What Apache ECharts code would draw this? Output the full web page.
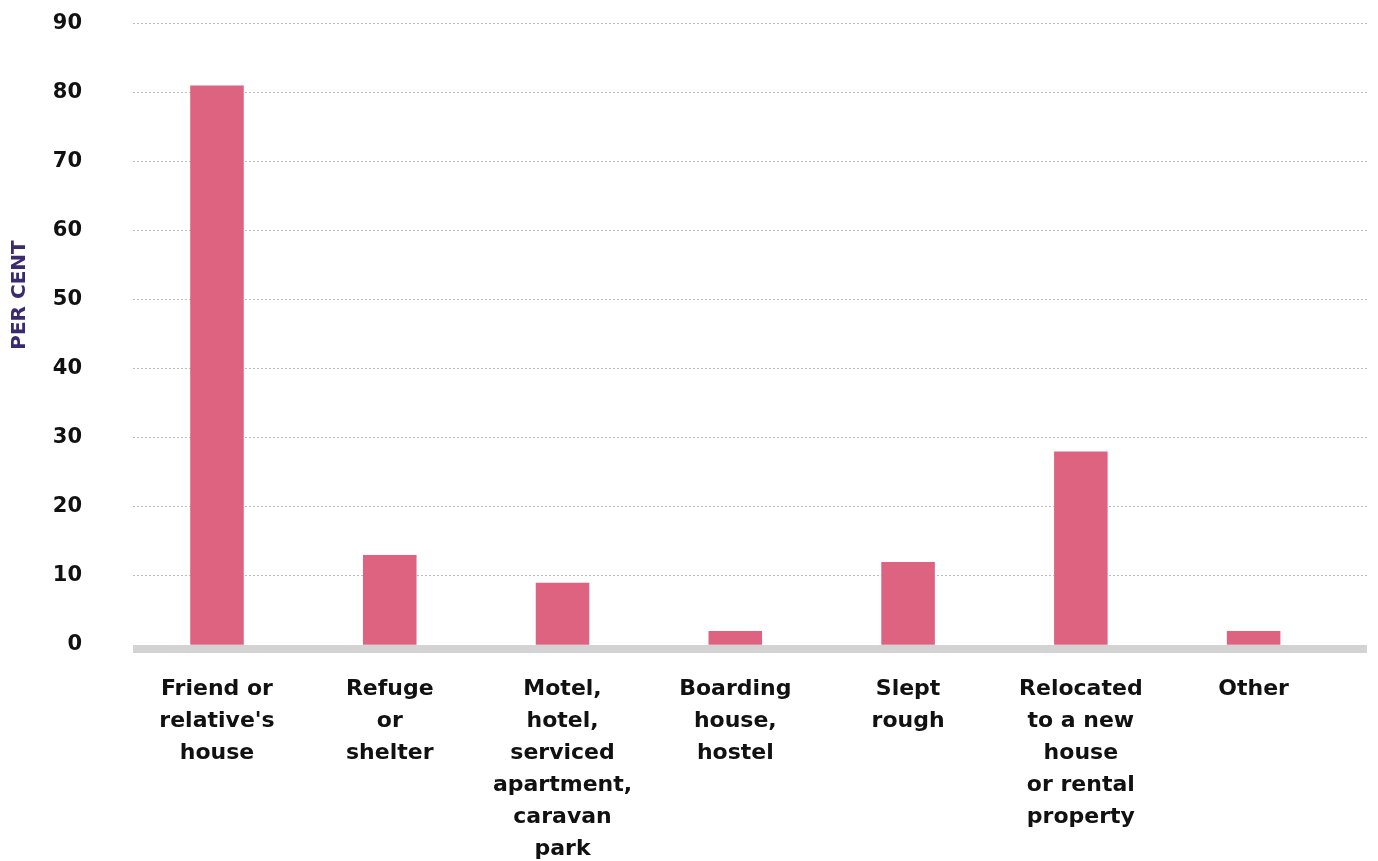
<!DOCTYPE html>
<html>
<head>
<meta charset="utf-8">
<script src="https://cdn.jsdelivr.net/npm/echarts@6/dist/echarts.min.js"></script>
<style>
html,body{margin:0;padding:0;background:#fff;}
#chart{width:1378px;height:861px;}
</style>
</head>
<body>
<div id="chart"></div>
<script>
const categories = [
  "Friend or\nrelative's\nhouse",
  "Refuge\nor\nshelter",
  "Motel,\nhotel,\nserviced\napartment,\ncaravan\npark",
  "Boarding\nhouse,\nhostel",
  "Slept\nrough",
  "Relocated\nto a new\nhouse\nor rental\nproperty",
  "Other"
];
const values = [81, 13, 9, 2, 12, 28, 2];
const yTicks = [0, 10, 20, 30, 40, 50, 60, 70, 80, 90];

const FONT = "'DejaVu Sans', sans-serif";
const chart = echarts.init(document.getElementById('chart'));
const gTop = 23.3, gBottom = 216.2;
chart.setOption({
  animation: false,
  grid: [
    {left: 130.6, right: 38, top: gTop, bottom: gBottom, containLabel: false, outerBoundsMode: 'none'},
    {left: 133, right: 11, top: gTop, bottom: gBottom, containLabel: false, outerBoundsMode: 'none'}
  ],
  graphic: [{
    type: 'text', x: 20, y: 295, rotation: Math.PI / 2,
    style: {
      text: 'PER CENT', fill: '#3b2a6d', font: "bold 20px 'DejaVu Sans', sans-serif",
      align: 'center', verticalAlign: 'middle'
    }
  }],
  xAxis: [
    {
      type: 'category', gridIndex: 0, data: categories,
      axisLine: {show: false}, axisTick: {show: false},
      axisLabel: {
        interval: 0, margin: 28, color: '#111', fontFamily: FONT,
        fontWeight: 'bold', fontSize: 22, lineHeight: 32
      }
    },
    {
      type: 'category', gridIndex: 1, data: [''], offset: 4, position: 'bottom',
      axisLine: {show: true, onZero: false, lineStyle: {color: '#d3d3d3', width: 8, cap: 'butt'}},
      axisTick: {show: false}, axisLabel: {show: false}
    }
  ],
  yAxis: [
    {
      type: 'value', gridIndex: 0, min: 0, max: 90, interval: 10,
      axisLabel: {show: false}, splitLine: {show: false},
      axisLine: {show: false}, axisTick: {show: false}
    },
    {
      type: 'value', gridIndex: 1, min: yTicks[0], max: yTicks[yTicks.length - 1], interval: 10,
      axisLine: {show: false}, axisTick: {show: false},
      axisLabel: {margin: 51, color: '#111', fontFamily: FONT, fontWeight: 'bold', fontSize: 21},
      splitLine: {show: true, lineStyle: {color: '#bdbdbd', type: [2, 2], width: 1}}
    }
  ],
  series: [{
    type: 'bar', xAxisIndex: 0, yAxisIndex: 0, data: values,
    barWidth: '31%', z: 5,
    itemStyle: {color: '#de6380'}
  }]
});
</script>
</body>
</html>
